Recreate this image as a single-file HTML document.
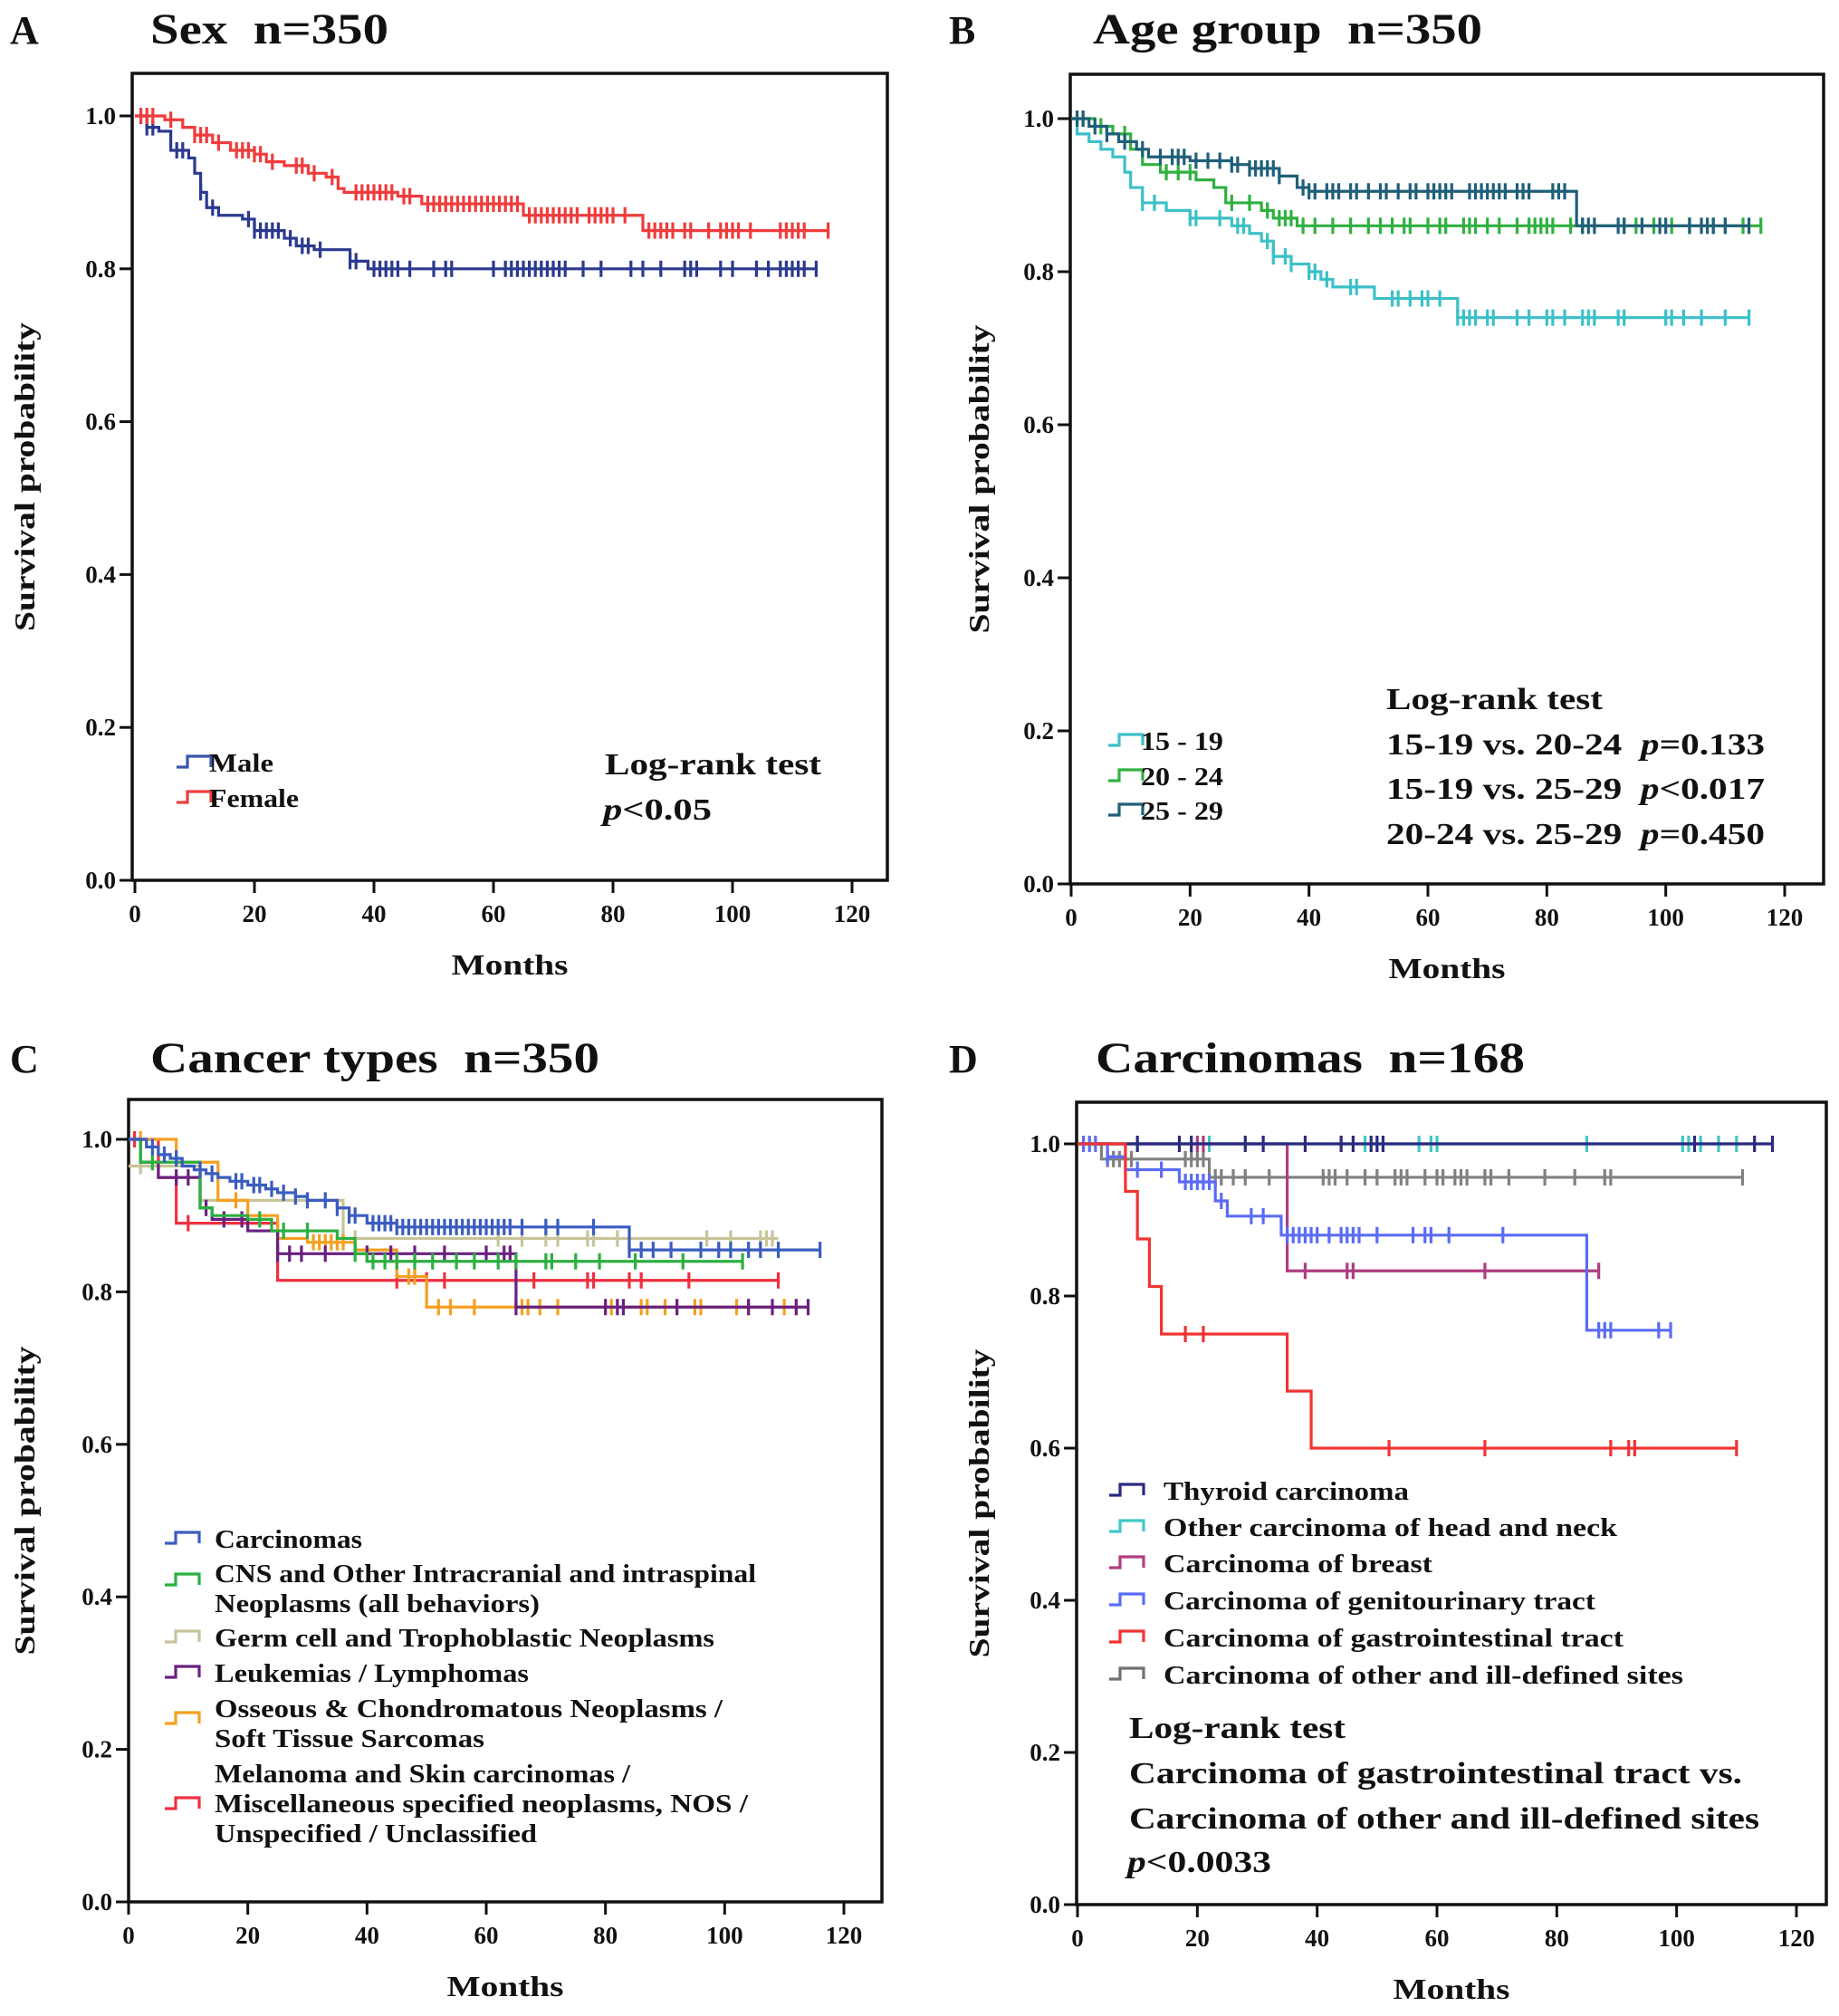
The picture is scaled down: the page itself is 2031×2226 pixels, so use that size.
<!DOCTYPE html>
<html><head><meta charset="utf-8"><title>Kaplan-Meier survival curves</title>
<style>
html,body{margin:0;padding:0;background:#fff;}
svg{display:block;}
text{font-family:"Liberation Serif",serif;font-weight:bold;fill:#111;white-space:pre;}
</style></head>
<body>
<svg id="fig" width="2031" height="2226" viewBox="0 0 2031 2226" xmlns="http://www.w3.org/2000/svg" xml:space="preserve"></svg>
<script>
// ---------- DATA ----------
const maleTimes = [0,2,4,6,9,10,11,12,14,18,20,25,27,30,36,39];
const maleSurv  = [1,0.985,0.98,0.955,0.945,0.925,0.9,0.88,0.87,0.865,0.85,0.84,0.83,0.825,0.81,0.80];
const maleEnd = 114;
const maleCensor = [2,3,7,8,11,13,19,20,21,22,23,24,26,28,29,31,36,37,40,41,42,43,44,46,50,52,53,60,62,63,64,65,66,67,68,69,70,71,72,75,78,83,85,88,92,93,94,98,100,104,106,108,109,110,111,112,114];
const femaleTimes = [0,5,8,10,13,16,20,22,25,29,32,34,35,44,48,65,85];
const femaleSurv  = [1,0.995,0.985,0.975,0.965,0.955,0.95,0.94,0.935,0.925,0.92,0.905,0.9,0.895,0.885,0.87,0.85];
const femaleEnd = 116;
const femaleCensor = [1,2,3,6,10,11,12,14,17,18,19,20,21,23,27,28,30,33,37,38,39,40,41,42,43,45,46,49,50,51,52,53,54,55,56,57,58,59,60,61,62,63,64,66,67,68,69,70,71,72,73,74,76,77,78,79,80,82,86,87,88,89,90,92,93,96,98,99,100,101,103,108,109,110,111,112,116];
const ageATimes = [0,1,3,5,7,9,10,12,16,20,27,30,32,34,37,40,42,44,51,65];
const ageASurv  = [1,0.98,0.97,0.96,0.95,0.93,0.91,0.89,0.88,0.87,0.86,0.85,0.84,0.82,0.81,0.80,0.79,0.78,0.765,0.74];
const ageAEnd = 114;
const ageACensor = [12,14,20,21,25,28,29,33,34,36,37,40,41,43,47,48,54,55,57,59,60,62,65,66,67,68,70,71,75,77,80,81,83,86,87,88,92,93,100,101,103,106,110,114];
const ageBTimes = [0,4,7,10,12,15,21,24,26,32,34,38];
const ageBSurv  = [1,0.99,0.98,0.96,0.94,0.93,0.92,0.91,0.89,0.88,0.87,0.86];
const ageBEnd = 116;
const ageBCensor = [2,5,9,16,18,20,27,30,33,35,36,37,39,41,44,47,50,52,54,56,57,60,62,63,66,67,68,70,72,75,77,78,79,80,81,84,86,93,95,98,101,104,108,110,113,116];
const ageCTimes = [0,3,6,8,11,13,20,27,30,35,38,40,85];
const ageCSurv  = [1,0.99,0.98,0.97,0.96,0.95,0.945,0.94,0.935,0.925,0.91,0.905,0.86];
const ageCEnd = 114;
const ageCCensor = [1,2,4,6,9,12,15,17,18,19,21,23,25,27,28,30,31,32,33,34,35,39,40,41,43,44,45,47,48,50,52,53,55,57,58,60,61,62,63,64,67,68,69,70,71,72,73,75,76,77,81,82,83,86,87,88,92,93,96,99,100,104,106,107,108,110,114];
const carcTimes = [0,3,5,7,9,11,13,15,17,20,23,25,28,30,35,37,40,45,84];
const carcSurv  = [1,0.99,0.98,0.975,0.965,0.96,0.955,0.95,0.945,0.94,0.935,0.93,0.925,0.92,0.91,0.9,0.89,0.885,0.855];
const carcEnd = 116;
const carcCensor = [4,6,8,12,14,18,19,21,22,24,26,28,30,33,35,37,38,41,42,43,44,45,46,47,48,49,50,51,52,53,54,55,56,57,58,59,60,61,62,63,64,66,70,72,78,84,86,88,91,96,99,101,104,106,109,116];
const cnsTimes = [0,2,12,14,20,24,35,38,40];
const cnsSurv  = [1,0.97,0.91,0.9,0.895,0.88,0.87,0.85,0.84];
const cnsEnd = 103;
const cnsCensor = [4,22,26,30,38,41,43,45,48,51,55,58,62,65,70,71,75,79,85,93,103];
const germTimes = [0,12,36];
const germSurv  = [0.965,0.92,0.87];
const germEnd = 109;
const germCensor = [2,12,36,38,62,66,70,72,77,78,82,97,101,106,107,108];
const leukTimes = [0,2,5,12,14,20,25,65];
const leukSurv  = [1,0.97,0.95,0.91,0.895,0.88,0.85,0.78];
const leukEnd = 114;
const leukCensor = [8,10,13,16,19,25,27,29,33,40,44,48,53,60,63,64,65,80,82,83,92,104,108,112,114];
const ossTimes = [0,8,15,20,25,30,38,45,50];
const ossSurv  = [1,0.97,0.92,0.9,0.87,0.865,0.855,0.82,0.78];
const ossEnd = 112;
const ossCensor = [2,18,31,32,33,34,35,36,47,48,52,54,58,66,67,69,72,81,86,87,90,95,96,102,104,110,112];
const melTimes = [0,5,8,25];
const melSurv  = [1,0.95,0.89,0.815];
const melEnd = 109;
const melCensor = [1,10,45,50,53,68,77,78,84,86,94,109];
const thyTimes = [0]; const thySurv = [1]; const thyEnd = 116;
const thyCensor = [10,17,19,28,31,38,44,46,49,50,51,103,113,116];
const hnTimes = [0]; const hnSurv = [1]; const hnEnd = 110;
const hnCensor = [22,48,57,59,60,85,101,102,104,107,110];
const brTimes = [0,35]; const brSurv = [1,0.833]; const brEnd = 87;
const brCensor = [20,21,38,45,46,68,87];
const guTimes = [0,5,8,17,23,25,34,85];
const guSurv  = [1,0.983,0.966,0.95,0.925,0.905,0.88,0.755];
const guEnd = 99;
const guCensor = [1,2,3,5,10,14,18,19,20,21,22,24,29,31,35,36,37,38,39,40,42,44,45,46,47,50,56,58,59,62,71,87,88,89,97,99];
const giTimes = [0,8,10,12,14,35,39];
const giSurv  = [1,0.9375,0.875,0.8125,0.75,0.675,0.6];
const giEnd = 110;
const giCensor = [18,21,52,68,89,92,93,110];
const othTimes = [0,4,22];
const othSurv  = [1,0.98,0.956];
const othEnd = 111;
const othCensor = [5,6,7,9,18,19,20,21,23,24,26,28,32,41,42,43,45,48,50,53,54,55,58,60,61,63,64,65,68,69,72,78,83,88,89,111];
const xTicks = [0,20,40,60,80,100,120];
const yTicks = [0,0.2,0.4,0.6,0.8,1.0];
const yTickLabels = ["0.0","0.2","0.4","0.6","0.8","1.0"];

// ---------- DRAWING ----------
const NS = "http://www.w3.org/2000/svg";
const svg = document.getElementById("fig");
function mk(tag, attrs, parent){
  const e = document.createElementNS(NS, tag);
  for (const k in attrs) e.setAttribute(k, attrs[k]);
  (parent||svg).appendChild(e);
  return e;
}
function txt(str, x, y, size, opts, parent){
  const t = mk("text", {x:x, y:y, "font-size":size}, parent);
  if (opts && opts.anchor) t.setAttribute("text-anchor", opts.anchor);
  if (opts && opts.len){ t.setAttribute("textLength", opts.len); t.setAttribute("lengthAdjust","spacingAndGlyphs"); }
  if (opts && opts.transform) t.setAttribute("transform", opts.transform);
  t.textContent = str;
  return t;
}
function survAt(times, surv, t){
  let s = surv[0];
  for (let i=0;i<times.length;i++){ if (times[i] <= t) s = surv[i]; }
  return s;
}
function drawPanel(P){
  const g = mk("g", {});
  
  
  const X = m => P.x0 + (m/120)*(P.x120 - P.x0);
  const Y = v => P.y0 - v*(P.y0 - P.y1);
  const frame = mk("rect", {x:P.left, y:P.top, width:P.right-P.left, height:P.y0-P.top, fill:"none", stroke:"#111", "stroke-width":3.5}, g);
  
  
  yTicks.forEach((v,i)=>{
    const tk = mk("line", {x1:P.left-14, x2:P.left, y1:Y(v), y2:Y(v), stroke:"#111", "stroke-width":3}, g);
    
    
    const l = txt(yTickLabels[i], P.left-18, Y(v)+9, 27, {anchor:"end"}, g);
    
    
  });
  xTicks.forEach(m=>{
    const tk = mk("line", {x1:X(m), x2:X(m), y1:P.y0, y2:P.y0+14, stroke:"#111", "stroke-width":3}, g);
    
    
    const l = txt(String(m), X(m), P.y0+46, 27, {anchor:"middle"}, g);
    
    
  });
  const xt = txt("Months", (P.left+P.right)/2, P.y0+104, 32, {anchor:"middle", len:129}, g);
  
  
  const yt = txt("Survival probability", 0, 0, 32, {anchor:"middle", len:341, transform:"translate("+(P.yTitleX)+","+((P.top+P.y0)/2)+") rotate(-90)"}, g);
  
  
  const lt = txt(P.letter, P.letterX, P.titleY, 44, {}, g);
  
  
  const tt = txt(P.title, P.titleX, P.titleY, 48, {len:P.titleLen}, g);
  
  
  P.series.forEach(S=>{
    let d = "M"+X(0)+","+Y(S.s[0]);
    for (let i=1;i<S.t.length;i++){
      d += " H"+X(S.t[i])+" V"+Y(S.s[i]);
    }
    d += " H"+X(S.end);
    const p = mk("path", {d:d, fill:"none", stroke:S.color, "stroke-width":3.2}, g);
    
    
    S.c.forEach(ct=>{
      const yy = Y(survAt(S.t, S.s, ct));
      const cm = mk("line", {x1:X(ct), x2:X(ct), y1:yy-9, y2:yy+9, stroke:S.color, "stroke-width":3.2}, g);
      
      
    });
  });
  P.legend.forEach(L=>{
    const ly = L.y;
    const sy = ly + (L.symOff||0);
    const sym = mk("path", {d:"M"+P.legX+","+(sy+5)+" h12 v-12 h26 v12", fill:"none", stroke:L.color, "stroke-width":3.2}, g);
    
    
    L.lines.forEach((ln,k)=>{
      const e = txt(ln[0], P.legTextX, ly+10+k*L.dy, 28, {len:ln[1]}, g);
      
      
    });
  });
  P.notes.forEach(n=>{
    const t = mk("text", {x:n.x, y:n.y, "font-size":34, textLength:n.len, lengthAdjust:"spacingAndGlyphs"}, g);
    
    
    if (n.p){
      const a = document.createElementNS(NS,"tspan"); a.setAttribute("font-style","italic"); a.textContent="p"; t.appendChild(a);
      const b = document.createElementNS(NS,"tspan"); b.textContent=n.text; t.appendChild(b);
    } else if (n.pv){
      t.appendChild(document.createTextNode(n.text));
      const a = document.createElementNS(NS,"tspan"); a.setAttribute("font-style","italic"); a.textContent="p"; t.appendChild(a);
      const b = document.createElementNS(NS,"tspan"); b.textContent=n.pv; t.appendChild(b);
    } else t.textContent = n.text;
  });
}

drawPanel({name:"panel-a-sex", letter:"A", letterX:11, title:"Sex  n=350", titleX:166, titleY:48, titleLen:263,
  left:146, right:980, top:81, x0:149, x120:941, y0:972, y1:128, yTitleX:38,
  series:[
    {id:"male", t:maleTimes, s:maleSurv, end:maleEnd, c:maleCensor, color:"#2b3a8f"},
    {id:"female", t:femaleTimes, s:femaleSurv, end:femaleEnd, c:femaleCensor, color:"#f03c3c"}],
  legX:195, legTextX:231,
  legend:[{color:"#3b55b0", y:842, dy:0, lines:[["Male",71]]},{color:"#f03c3c", y:881, dy:0, lines:[["Female",99]]}],
  notes:[{x:668,y:855,text:"Log-rank test",len:239},{x:666,y:905,p:true,text:"<0.05",len:120}]
});
drawPanel({name:"panel-b-age-group", letter:"B", letterX:1048, title:"Age group  n=350", titleX:1207, titleY:48, titleLen:430,
  left:1182, right:2014, top:82, x0:1183, x120:1971, y0:976, y1:131, yTitleX:1092,
  series:[
    {id:"age-15-19", t:ageATimes, s:ageASurv, end:ageAEnd, c:ageACensor, color:"#3cc0c8"},
    {id:"age-20-24", t:ageBTimes, s:ageBSurv, end:ageBEnd, c:ageBCensor, color:"#30b040"},
    {id:"age-25-29", t:ageCTimes, s:ageCSurv, end:ageCEnd, c:ageCCensor, color:"#1f5f7a"}],
  legX:1224, legTextX:1260,
  legend:[{color:"#3cc0c8", y:818, dy:0, lines:[["15 - 19",91]]},{color:"#30b040", y:857, dy:0, lines:[["20 - 24",91]]},{color:"#1f5f7a", y:895, dy:0, lines:[["25 - 29",91]]}],
  notes:[{x:1531,y:783,text:"Log-rank test",len:239},
         {x:1531,y:833,text:"15-19 vs. 20-24  ",len:418,pv:"=0.133"},
         {x:1531,y:882,text:"15-19 vs. 25-29  ",len:418,pv:"<0.017"},
         {x:1531,y:932,text:"20-24 vs. 25-29  ",len:418,pv:"=0.450"}]
});
drawPanel({name:"panel-c-cancer-types", letter:"C", letterX:11, title:"Cancer types  n=350", titleX:166, titleY:1184, titleLen:496,
  left:142, right:974, top:1214, x0:142, x120:932, y0:2100, y1:1258, yTitleX:38,
  series:[
    {id:"germ-cell", t:germTimes, s:germSurv, end:germEnd, c:germCensor, color:"#c8c49a"},
    {id:"melanoma-misc", t:melTimes, s:melSurv, end:melEnd, c:melCensor, color:"#f03040"},
    {id:"osseous", t:ossTimes, s:ossSurv, end:ossEnd, c:ossCensor, color:"#f5a020"},
    {id:"leukemias", t:leukTimes, s:leukSurv, end:leukEnd, c:leukCensor, color:"#6a2080"},
    {id:"cns", t:cnsTimes, s:cnsSurv, end:cnsEnd, c:cnsCensor, color:"#2bb040"},
    {id:"carcinomas", t:carcTimes, s:carcSurv, end:carcEnd, c:carcCensor, color:"#3a5cc0"}],
  legX:182, legTextX:237,
  legend:[
    {color:"#3a5cc0", y:1699, dy:33, lines:[["Carcinomas",163]]},
    {color:"#2bb040", y:1737, dy:33, symOff:8, lines:[["CNS and Other Intracranial and intraspinal",598],["Neoplasms (all behaviors)",359]]},
    {color:"#c8c49a", y:1808, dy:33, lines:[["Germ cell and Trophoblastic Neoplasms",552]]},
    {color:"#6a2080", y:1847, dy:33, lines:[["Leukemias / Lymphomas",347]]},
    {color:"#f5a020", y:1886, dy:33, symOff:12, lines:[["Osseous & Chondromatous Neoplasms /",561],["Soft Tissue Sarcomas",298]]},
    {color:"#f03040", y:1958, dy:33, symOff:34, lines:[["Melanoma and Skin carcinomas /",459],["Miscellaneous specified neoplasms, NOS /",589],["Unspecified / Unclassified",356]]}],
  notes:[]
});
drawPanel({name:"panel-d-carcinomas", letter:"D", letterX:1048, title:"Carcinomas  n=168", titleX:1210, titleY:1184, titleLen:474,
  left:1189, right:2017, top:1217, x0:1190, x120:1984, y0:2103, y1:1263, yTitleX:1092,
  series:[
    {id:"other-ill-defined", t:othTimes, s:othSurv, end:othEnd, c:othCensor, color:"#808080"},
    {id:"head-neck", t:hnTimes, s:hnSurv, end:hnEnd, c:hnCensor, color:"#40c8c8"},
    {id:"breast", t:brTimes, s:brSurv, end:brEnd, c:brCensor, color:"#b03c80"},
    {id:"thyroid", t:thyTimes, s:thySurv, end:thyEnd, c:thyCensor, color:"#2a2a80"},
    {id:"genitourinary", t:guTimes, s:guSurv, end:guEnd, c:guCensor, color:"#5a6cf5"},
    {id:"gastrointestinal", t:giTimes, s:giSurv, end:giEnd, c:giCensor, color:"#f03434"}],
  legX:1225, legTextX:1285,
  legend:[
    {color:"#2a2a80", y:1646, dy:0, lines:[["Thyroid carcinoma",271]]},
    {color:"#40c8c8", y:1686, dy:0, lines:[["Other carcinoma of head and neck",501]]},
    {color:"#b03c80", y:1726, dy:0, lines:[["Carcinoma of breast",297]]},
    {color:"#5a6cf5", y:1767, dy:0, lines:[["Carcinoma of genitourinary tract",477]]},
    {color:"#f03434", y:1808, dy:0, lines:[["Carcinoma of gastrointestinal tract",508]]},
    {color:"#707070", y:1849, dy:0, lines:[["Carcinoma of other and ill-defined sites",574]]}],
  notes:[{x:1247,y:1919,text:"Log-rank test",len:239},
         {x:1247,y:1969,text:"Carcinoma of gastrointestinal tract vs.",len:677},
         {x:1247,y:2019,text:"Carcinoma of other and ill-defined sites",len:696},
         {x:1245,y:2067,p:true,text:"<0.0033",len:159}]
});
</script>
</body></html>
